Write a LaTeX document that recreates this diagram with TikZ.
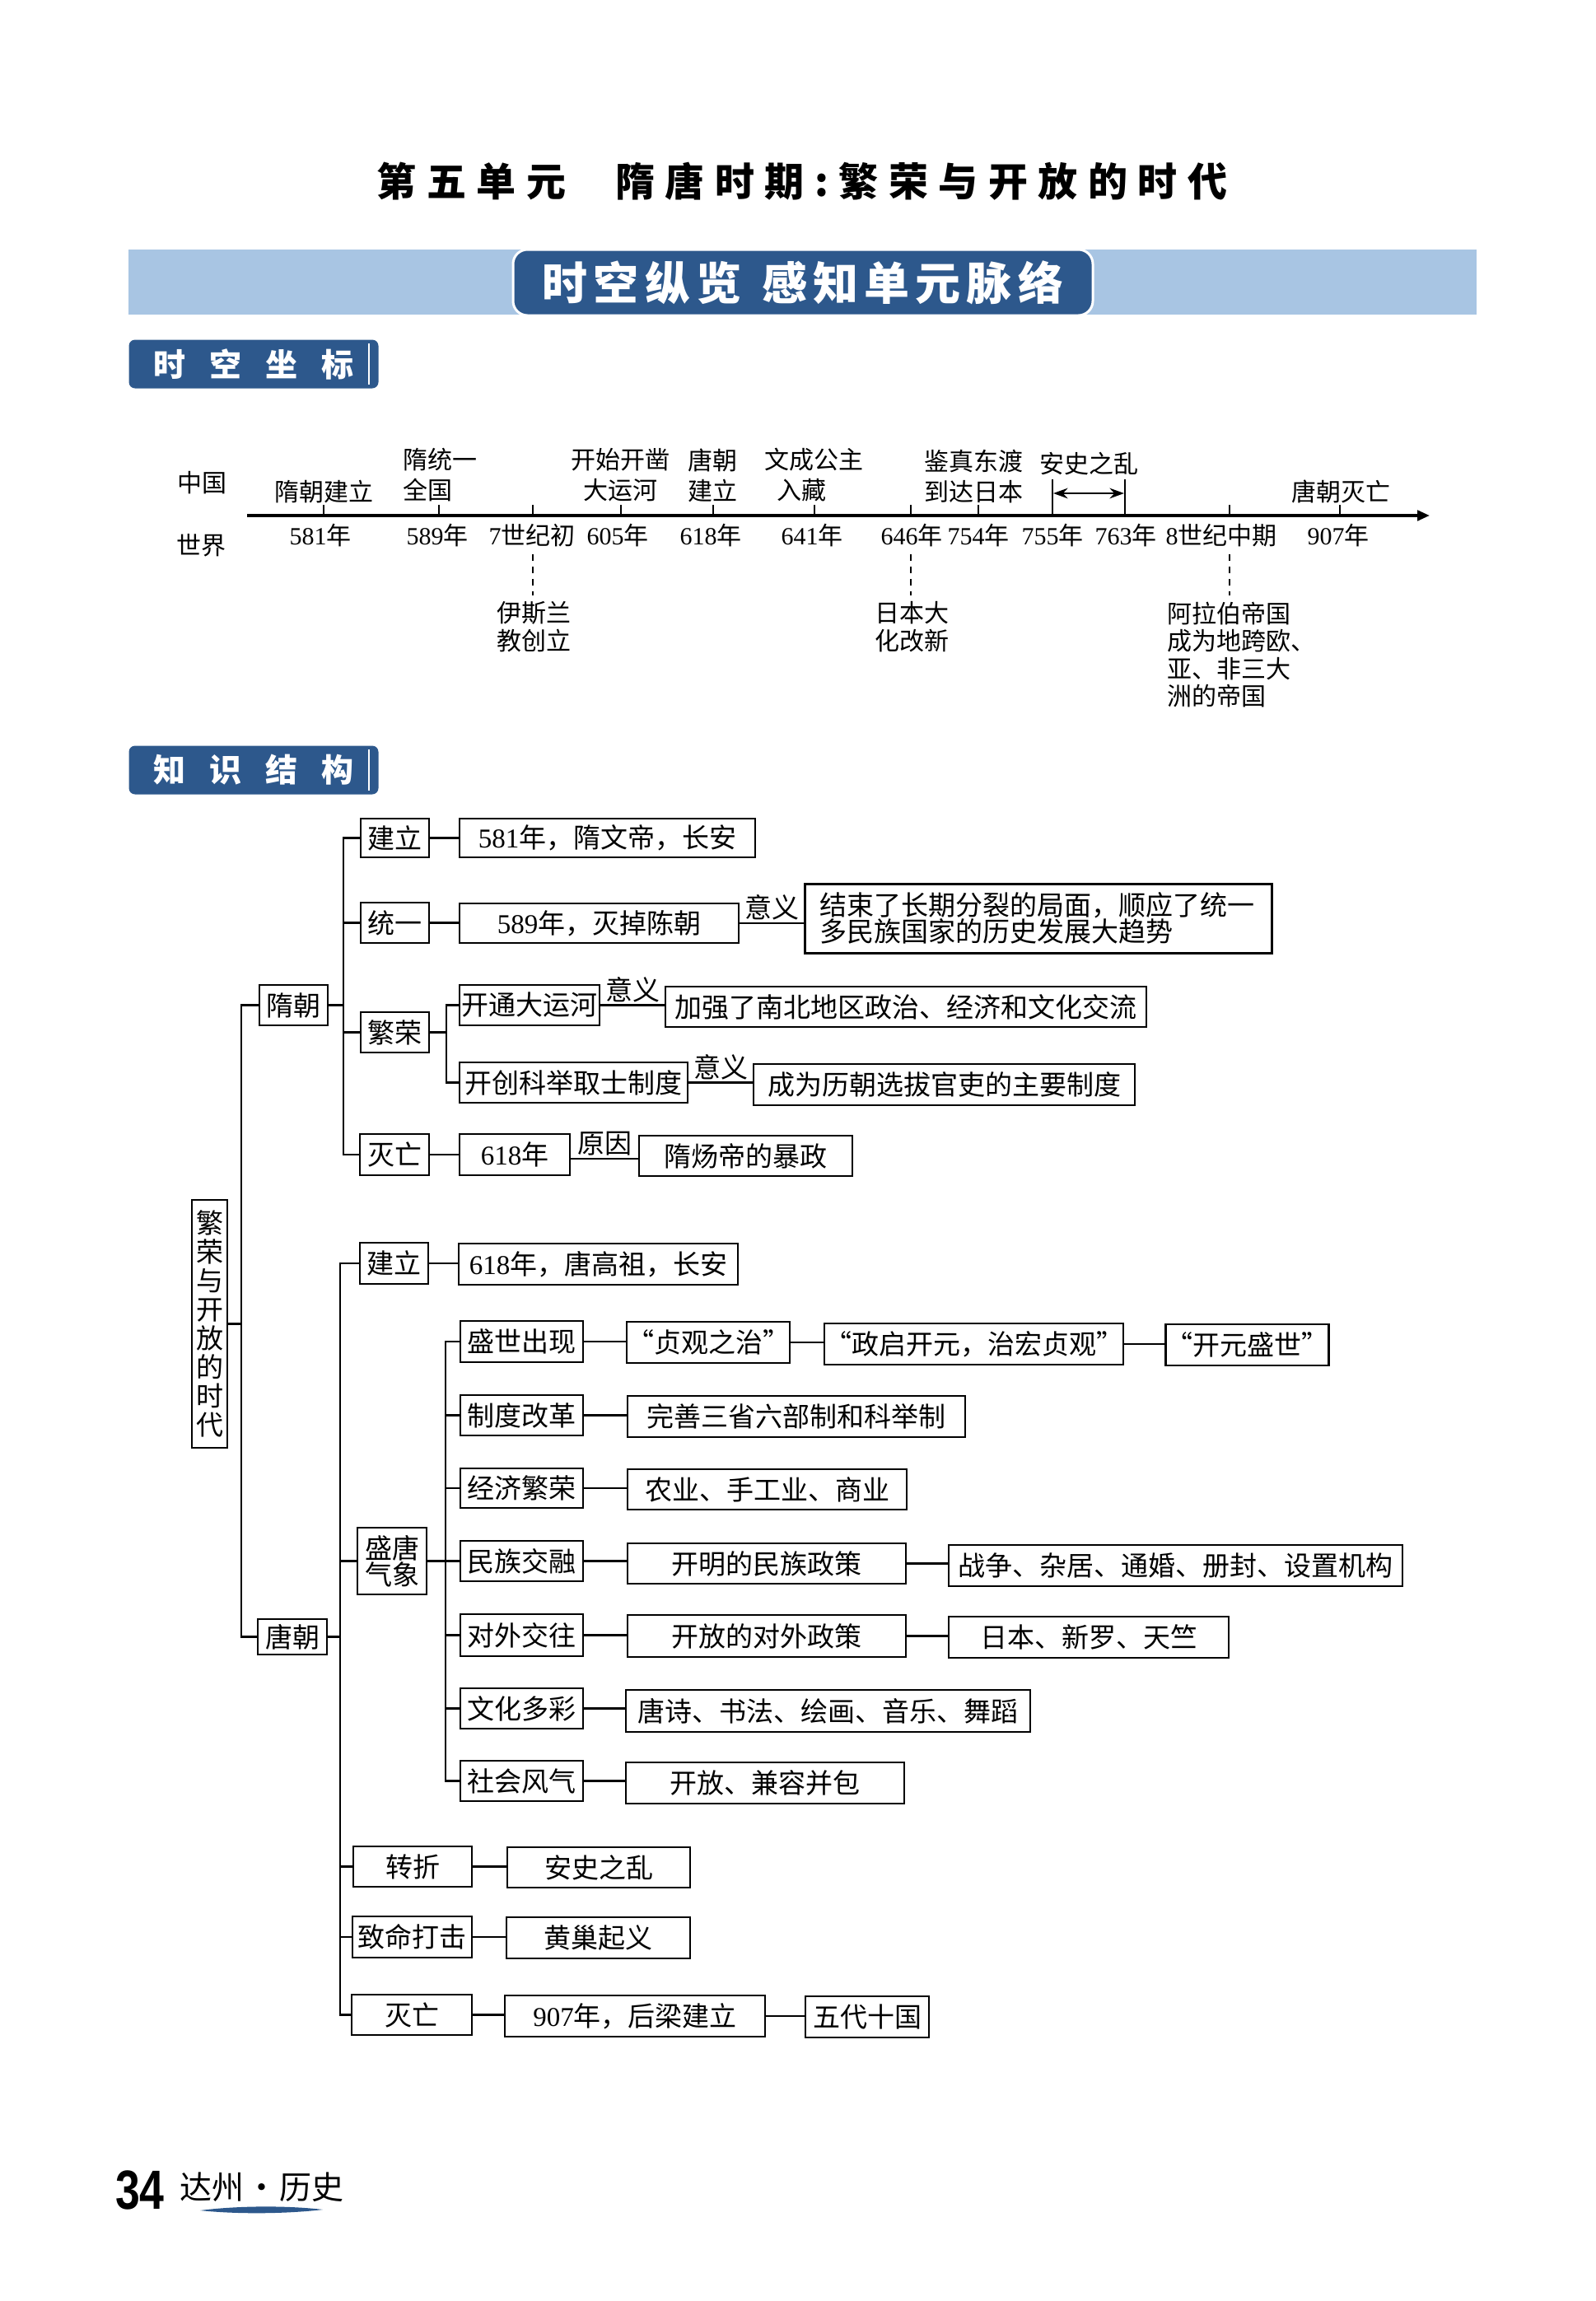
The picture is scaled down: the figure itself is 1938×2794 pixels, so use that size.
\documentclass[tikz,border=0pt]{standalone}
\usepackage{fontspec}
\usepackage{graphicx}
\setmainfont{Noto Sans CJK SC}
\newfontfamily\lat{Liberation Serif}
\newfontfamily\latsans{Liberation Sans}
\newfontfamily\titlefont[LetterSpace=26]{Noto Sans CJK SC}
\newfontfamily\bannerfont[LetterSpace=13]{Noto Sans CJK SC}
\usetikzlibrary{arrows.meta}
\definecolor{dblue}{RGB}{45,88,140}
\definecolor{lblue}{RGB}{168,197,227}
\newcommand\setfs[2]{\fontsize{#1pt}{#2pt}\selectfont}
\newcommand\yr[1]{{\lat #1}}
\newcommand\tbox[6]{\node[box, minimum width={(#4-#2)*0.4pt}, minimum height={(#5-#3)*0.4pt}] (#1) at ({(#2+#4)/2},{(#3+#5)/2}) {#6};}
\tikzset{
  box/.style={draw, line width=1pt, inner sep=0pt, font=\setfs{13.2}{12.8}, align=center},
  lbl/.style={font=\setfs{13.2}{13.2}, inner sep=0pt},
  tl/.style={font=\setfs{12}{14.8}, inner sep=0pt, align=center},
  tlb/.style={font=\setfs{12}{13.4}, inner sep=0pt, align=center},
  conn/.style={line width=1pt},
  sect/.style={fill=dblue, text=white, rounded corners=3pt, inner sep=0pt,
    minimum width={303*0.4pt}, minimum height={59*0.4pt}, font=\bfseries\setfs{15.6}{15.6}},
}
\begin{document}
\begin{tikzpicture}[x=0.4pt,y=-0.4pt]
\useasboundingbox (0,0) rectangle (1938,2794);
\fill[white] (0,0) rectangle (1938,2794);

% ---------- title ----------
\node[font=\titlefont\bfseries\setfs{19.2}{19.2}, inner sep=0pt] (title) at (974,220)
  {第五单元\hspace{24pt}隋唐时期:繁荣与开放的时代};

% ---------- banner ----------
\fill[lblue] (156,303) rectangle (1793,382);
\node[fill=dblue, draw=white, line width=1.2pt, rounded corners=7pt, text=white, inner sep=0pt,
  minimum width={704*0.4pt}, minimum height={80*0.4pt}, font=\bannerfont\bfseries\setfs{22}{22}]
  (banner) at (975,343) {时空纵览\hspace{10pt}感知单元脉络};

% ---------- section labels ----------
\node[sect] (sec1) at (308,442) {时\hspace{0.75em}空\hspace{0.75em}坐\hspace{0.75em}标};
\draw[white, line width=0.8pt] ([xshift=-5pt,yshift=-2pt]sec1.north east) -- ([xshift=-5pt,yshift=2pt]sec1.south east);
\node[sect] (sec2) at (308,935) {知\hspace{0.75em}识\hspace{0.75em}结\hspace{0.75em}构};
\draw[white, line width=0.8pt] ([xshift=-5pt,yshift=-2pt]sec2.north east) -- ([xshift=-5pt,yshift=2pt]sec2.south east);

% ---------- timeline ----------
\coordinate (tlS) at (300,626);
\coordinate (tlE) at (1736,626);
\draw[line width=1.4pt, -{Triangle[length=6pt,width=5pt]}] (tlS) -- (tlE);
\foreach \x in {393,533,647,754,866,989,1106,1188,1493,1627}
  \draw[line width=0.5pt] (\x,613) -- (\x,626);
\coordinate (a1) at (1278,582); \coordinate (a2) at (1366,582);
\draw[line width=0.6pt] (a1) -- (a1 |- tlS);
\draw[line width=0.6pt] (a2) -- (a2 |- tlS);
\draw[line width=1.1pt, {Stealth[length=7pt,width=5pt]}-{Stealth[length=7pt,width=5pt]}] (1279,599) -- (1365,599);

\node[tl] (zg) at (245,586) {中国};
\node[tl] (sj) at (244,662) {世界};

\node[tl] (u1) at (393,597) {隋朝建立};
\node[tl, align=left] (u2) at (534,577) {隋统一\\全国};
\node[tl] (u3) at (753,577) {开始开凿\\大运河};
\node[tl] (u4) at (865,577) {唐朝\\建立};
\node[tl, align=left] (u5) at (988,577) {文成公主\\\hspace{0.5em}入藏};
\node[tl] (u6) at (1182,578) {鉴真东渡\\到达日本};
\node[tl] (u7) at (1322,563) {安史之乱};
\node[tl] (u8) at (1628,597) {唐朝灭亡};

\node[tl] (y1) at (389,650) {\yr{581}年};
\node[tl] (y2) at (531,650) {\yr{589}年};
\node[tl] (y3) at (646,650) {\yr{7}世纪初};
\node[tl] (y4) at (750,650) {\yr{605}年};
\node[tl] (y5) at (863,650) {\yr{618}年};
\node[tl] (y6) at (986,650) {\yr{641}年};
\node[tl] (y7) at (1107,650) {\yr{646}年};
\node[tl] (y8) at (1188,650) {\yr{754}年};
\node[tl] (y9) at (1278,650) {\yr{755}年};
\node[tl] (y10) at (1367,650) {\yr{763}年};
\node[tl] (y11) at (1483,650) {\yr{8}世纪中期};
\node[tl] (y12) at (1625,650) {\yr{907}年};

\foreach \x in {647,1106,1493}
  \draw[line width=0.7pt, dash pattern=on 3pt off 3pt] (\x,673) -- (\x,723);
\node[tlb] (b1) at (648,761) {伊斯兰\\教创立};
\node[tlb] (b2) at (1107,761) {日本大\\化改新};
\node[tlb, align=left, anchor=west] (b3) at (1417,795) {阿拉伯帝国\\成为地跨欧、\\亚、非三大\\洲的帝国};

% ---------- knowledge tree ----------
\node[draw, line width=1pt, inner sep=0pt, align=center, font=\setfs{13.2}{14},
  minimum width={43*0.4pt}, minimum height={301*0.4pt}] (root) at (254.5,1607.5)
  {繁\\荣\\与\\开\\放\\的\\时\\代};

% Sui
\tbox{sui}{315}{1196}{398}{1245}{隋朝}
\tbox{suiJL}{438}{994}{521}{1041}{建立}
\tbox{suiJLt}{558}{994}{917}{1041}{\yr{581}年，隋文帝，长安}
\tbox{suiTY}{438}{1096}{521}{1145}{统一}
\tbox{suiTYt}{558}{1097}{897}{1145}{\yr{589}年，灭掉陈朝}
\node[box, align=left, anchor=north west, minimum width={567*0.4pt}, minimum height={84*0.4pt}, text width={530*0.4pt}]
  (suiTYm) at (976,1072) {结束了长期分裂的局面，顺应了统一\\多民族国家的历史发展大趋势};
\tbox{suiFR}{438}{1229}{521}{1278}{繁荣}
\tbox{suiYH}{558}{1196}{728}{1245}{开通大运河}
\tbox{suiYHm}{808}{1198}{1392}{1247}{加强了南北地区政治、经济和文化交流}
\tbox{suiKJ}{558}{1290}{835}{1339}{开创科举取士制度}
\tbox{suiKJm}{915}{1292}{1378}{1342}{成为历朝选拔官吏的主要制度}
\tbox{suiMW}{437}{1377}{521}{1427}{灭亡}
\tbox{suiMWt}{558}{1377}{692}{1427}{\yr{618}年}
\tbox{suiMWm}{776}{1379}{1035}{1428}{隋炀帝的暴政}

% Tang
\tbox{tang}{313}{1966}{397}{2009}{唐朝}
\tbox{tJL}{437}{1509}{520}{1559}{建立}
\tbox{tJLt}{557}{1510}{896}{1560}{\yr{618}年，唐高祖，长安}
\tbox{tSD}{434}{1855}{518}{1936}{盛唐\\气象}
\tbox{c1}{559}{1604}{708}{1654}{盛世出现}
\tbox{c2}{559}{1694}{708}{1743}{制度改革}
\tbox{c3}{559}{1783}{708}{1831}{经济繁荣}
\tbox{c4}{559}{1871}{708}{1920}{民族交融}
\tbox{c5}{559}{1960}{708}{2011}{对外交往}
\tbox{c6}{559}{2050}{708}{2099}{文化多彩}
\tbox{c7}{559}{2138}{708}{2187}{社会风气}
\tbox{i1}{768}{1605}{952}{1655}{“贞观之治”}
\tbox{i1b}{1002}{1607}{1363}{1657}{“政启开元，治宏贞观”}
\tbox{i1c}{1417}{1608}{1612}{1658}{“开元盛世”}
\tbox{i2}{762}{1695}{1172}{1745}{完善三省六部制和科举制}
\tbox{i3}{762}{1784}{1101}{1833}{农业、手工业、商业}
\tbox{i4}{762}{1874}{1100}{1923}{开明的民族政策}
\tbox{i4b}{1152}{1876}{1703}{1926}{战争、杂居、通婚、册封、设置机构}
\tbox{i5}{762}{1961}{1100}{2012}{开放的对外政策}
\tbox{i5b}{1152}{1963}{1492}{2013}{日本、新罗、天竺}
\tbox{i6}{760}{2052}{1251}{2103}{唐诗、书法、绘画、音乐、舞蹈}
\tbox{i7}{760}{2140}{1098}{2190}{开放、兼容并包}
\tbox{tZZ}{429}{2242}{573}{2291}{转折}
\tbox{tZZt}{616}{2243}{838}{2292}{安史之乱}
\tbox{tZM}{428}{2327}{573}{2377}{致命打击}
\tbox{tZMt}{615}{2328}{838}{2378}{黄巢起义}
\tbox{tMW}{427}{2422}{573}{2471}{灭亡}
\tbox{tMWt}{613}{2423}{929}{2473}{\yr{907}年，后梁建立}
\tbox{tMWt2}{978}{2424}{1128}{2474}{五代十国}

% spine x positions
\coordinate (rx) at (293,0);
\coordinate (sx) at (417,0);
\coordinate (fx) at (542,0);
\coordinate (tx) at (413,0);
\coordinate (gx) at (541,0);

\draw[conn] (sui.west) -- (sui.west -| rx) -- (tang.west -| rx) -- (tang.west);
\draw[conn] (root.east) -- (root.east -| rx);
\draw[conn] (suiJL.west) -- (suiJL.west -| sx) -- (suiMW.west -| sx) -- (suiMW.west);
\foreach \n in {suiTY,suiFR} \draw[conn] (\n.west -| sx) -- (\n.west);
\draw[conn] (sui.east) -- (sui.east -| sx);
\draw[conn] (suiYH.west) -- (suiYH.west -| fx) -- (suiKJ.west -| fx) -- (suiKJ.west);
\draw[conn] (suiFR.east) -- (suiFR.east -| fx);
\draw[conn] (suiJL.east) -- (suiJL.east -| suiJLt.west);
\draw[conn] (suiTY.east) -- (suiTY.east -| suiTYt.west);
\draw[conn] (suiTYt.east) -- node[lbl, above=1pt] (m1) {意义} (suiTYt.east -| suiTYm.west);
\draw[conn] (suiYH.east) -- node[lbl, above=1pt] (m2) {意义} (suiYH.east -| suiYHm.west);
\draw[conn] (suiKJ.east) -- node[lbl, above=1pt] (m3) {意义} (suiKJ.east -| suiKJm.west);
\draw[conn] (suiMW.east) -- (suiMW.east -| suiMWt.west);
\draw[conn] ([yshift=-2pt]suiMWt.east) -- node[lbl, above=1pt] (m4) {原因} ([yshift=-2pt]suiMWt.east -| suiMWm.west);

\draw[conn] (tJL.west) -- (tJL.west -| tx) -- (tMW.west -| tx) -- (tMW.west);
\foreach \n in {tSD,tZZ,tZM} \draw[conn] (\n.west -| tx) -- (\n.west);
\draw[conn] (tang.east) -- (tang.east -| tx);
\draw[conn] (c1.west) -- (c1.west -| gx) -- (c7.west -| gx) -- (c7.west);
\foreach \n in {c2,c3,c4,c5,c6} \draw[conn] (\n.west -| gx) -- (\n.west);
\draw[conn] (tSD.east) -- (tSD.east -| gx);
\draw[conn] (tJL.east) -- (tJL.east -| tJLt.west);
\draw[conn] (c1.east) -- (c1.east -| i1.west);
\draw[conn] (i1.east) -- (i1.east -| i1b.west);
\draw[conn] (i1b.east) -- (i1b.east -| i1c.west);
\draw[conn] (c2.east) -- (c2.east -| i2.west);
\draw[conn] (c3.east) -- (c3.east -| i3.west);
\draw[conn] (c4.east) -- (c4.east -| i4.west);
\draw[conn] (i4.east) -- (i4.east -| i4b.west);
\draw[conn] (c5.east) -- (c5.east -| i5.west);
\draw[conn] (i5.east) -- (i5.east -| i5b.west);
\draw[conn] (c6.east) -- (c6.east -| i6.west);
\draw[conn] (c7.east) -- (c7.east -| i7.west);
\draw[conn] (tZZ.east) -- (tZZ.east -| tZZt.west);
\draw[conn] (tZM.east) -- (tZM.east -| tZMt.west);
\draw[conn] (tMW.east) -- (tMW.east -| tMWt.west);
\draw[conn] (tMWt.east) -- (tMWt.east -| tMWt2.west);

% ---------- footer ----------
\node[font=\latsans\bfseries\setfs{26.8}{26.8}, inner sep=0pt] (pg) at (170,2659) {\scalebox{0.8}[1]{34}};
\node[font=\setfs{15.6}{15.6}, inner sep=0pt] (ft) at (318,2656) {达州\hspace{0.05em}·\hspace{0.05em}历史};
\fill[dblue] (243,2684) .. controls (290,2678) and (350,2678) .. (392,2683) .. controls (350,2688) and (290,2689) .. (243,2684) -- cycle;
\end{tikzpicture}
\end{document}
